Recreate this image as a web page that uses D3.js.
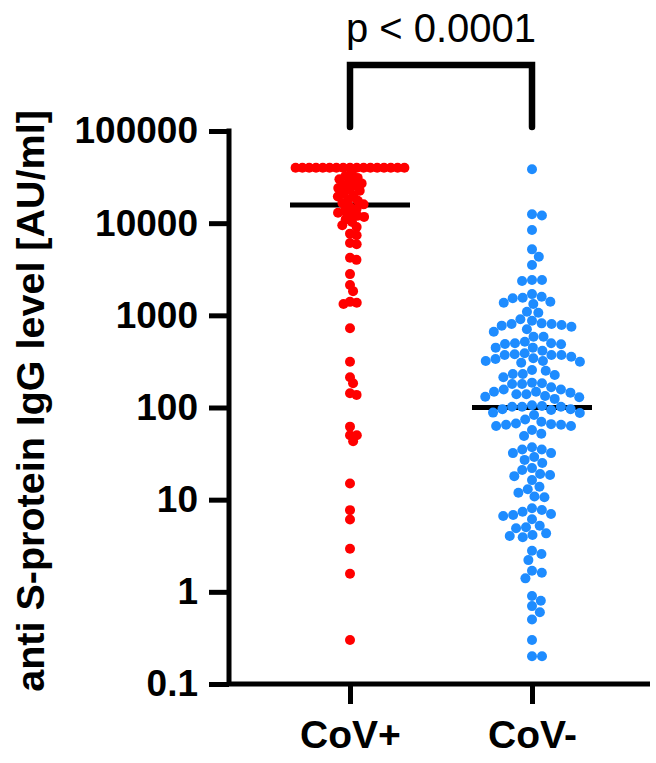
<!DOCTYPE html>
<html>
<head>
<meta charset="utf-8">
<script src="https://cdn.jsdelivr.net/npm/d3@7"></script>
<style>
  body { margin: 0; background: #fff; }
  text { font-family: "Liberation Sans", Arial, sans-serif; }
</style>
</head>
<body>
<script>
'use strict';

// groups and colours
const groups = ["CoV+", "CoV-"]
const groupColors = ["#FF0000", "#1E8CFF"]

// anti S-protein IgG [AU/ml]
const covPos = [
  40000, 40000, 40000, 40000, 40000, 40000, 40000, 40000, 40000, 40000,
  40000, 40000, 40000, 40000, 40000, 40000, 40000,
  34000, 32500, 31000, 30000, 28500, 27000, 26000, 25500, 24000, 23000,
  22500, 21000, 20000, 19500, 18000, 17500, 16500, 16000, 15000, 14200,
  13500, 13000, 12400, 12000, 11700, 11000, 10300,
  9500, 9100, 7700, 7400, 6100, 5900, 4220, 4000, 2800, 2130, 1830,
  1400, 1370, 1330, 723, 314, 213, 183, 143, 137, 62, 50, 50, 43,
  15, 7.7, 6.1, 2.93, 1.57, 0.3
]

const covNeg = [
  38400, 12500, 12100, 8430, 5200, 4330, 3520, 2420, 2420, 2360, 1700, 1590,
  1550, 1530, 1406, 1371, 1327, 1094, 1069, 906, 875, 818, 805, 805, 785, 773,
  753, 706, 664, 586, 586, 518, 498, 498, 489, 485, 446, 446, 413, 387, 378,
  371, 371, 371, 356, 342, 336, 319, 319, 314, 306, 255, 251, 231, 231, 225,
  213, 186, 183, 180, 180, 166, 157, 157, 148, 148, 145, 139, 139, 133, 131,
  129, 124, 106, 104, 102, 102, 102, 96, 96, 94, 88, 87, 83, 74, 70, 67, 66,
  65, 65, 63, 63, 57, 52, 49, 37, 35, 35, 32, 32, 29, 27, 25, 22, 21, 19,
  18.5, 18, 16.3, 13.8, 13, 11.9, 10.8, 10.6, 8.06, 7.72, 7.4, 6.98, 6.82,
  6.65, 6.12, 5.22, 5.01, 4.89, 4.31, 4.14, 4.03, 3.91, 2.79, 2.57, 2.21,
  1.69, 1.61, 1.4, 0.9, 0.8, 0.7, 0.6, 0.5, 0.3, 0.2, 0.2
]

const medians = [15700, 100]
const yTicks = [0.1, 1, 10, 100, 1000, 10000, 100000]
const pLabel = "p < 0.0001"
const yTitle = "anti S-protein IgG level [AU/ml]"

const m = {
  width: 656,
  height: 763,
  left: 229,
  right: 650,
  top: 131,
  bottom: 684
}

const svg = d3.select('body')
  .append('svg')
  .attr('width', m.width)
  .attr('height', m.height)

const x = d3.scalePoint()
  .domain(groups)
  .range([350, 532])

const y = d3.scaleLog()
  .domain([0.1, 100000])
  .range([m.bottom, m.top])

// simple beeswarm: place each point as close to the centre as it can go
function swarm(values, minD) {
  const pts = values.map((v) => ({v: v, y: y(v)}))
    .sort((a, b) => a.y - b.y)
  const placed = []
  pts.forEach((p) => {
    const near = placed.filter((q) => Math.abs(q.y - p.y) < minD)
    let cands = [0]
    near.forEach((q) => {
      const dx = Math.sqrt(minD * minD - (q.y - p.y) ** 2)
      cands.push(q.dx + dx, q.dx - dx)
    })
    cands.sort((a, b) => Math.abs(a) - Math.abs(b))
    for (const c of cands) {
      const ok = near.every((q) => (q.dx - c) ** 2 + (q.y - p.y) ** 2 >= minD * minD - 1e-6)
      if (ok) { p.dx = c; break }
    }
    placed.push(p)
  })
  return placed
}

// y axis
const yAxis = d3.axisLeft(y)
  .tickValues(yTicks)
  .tickFormat((d) => String(d))
  .tickSize(20)
  .tickSizeOuter(0)
  .tickPadding(11)

const gy = svg.append('g')
  .attr('transform', 'translate(' + m.left + ',0)')
  .call(yAxis)
gy.select('.domain').remove()
gy.selectAll('line').attr('stroke', '#000').attr('stroke-width', 5)
gy.selectAll('text')
  .style('font-size', '37px')
  .style('font-weight', 'bold')
  .attr('fill', '#000')

// x axis
const xAxis = d3.axisBottom(x)
  .tickSize(20)
  .tickSizeOuter(0)
  .tickPadding(16)

const gx = svg.append('g')
  .attr('transform', 'translate(0,' + m.bottom + ')')
  .call(xAxis)
gx.select('.domain').remove()
gx.selectAll('line').attr('stroke', '#000').attr('stroke-width', 5)
gx.selectAll('text')
  .style('font-size', '39px')
  .style('font-weight', 'bold')
  .attr('fill', '#000')

// axis lines drawn as one corner
svg.append('path')
  .attr('d', 'M' + m.left + ',' + (m.top - 2.5) + 'V' + m.bottom + 'H' + m.right)
  .attr('fill', 'none')
  .attr('stroke', '#000')
  .attr('stroke-width', 5)

// median lines
svg.selectAll('.median')
  .data(medians)
  .enter()
  .append('line')
  .attr('class', 'median')
  .attr('x1', (d, i) => x(groups[i]) - 60)
  .attr('x2', (d, i) => x(groups[i]) + 60)
  .attr('y1', (d) => y(d))
  .attr('y2', (d) => y(d))
  .attr('stroke', '#000')
  .attr('stroke-width', 5)

// dots
const sets = [swarm(covPos, 6.8), swarm(covNeg, 10)]
sets.forEach((pts, i) => {
  svg.append('g')
    .selectAll('circle')
    .data(pts)
    .enter()
    .append('circle')
    .attr('cx', (d) => x(groups[i]) + d.dx)
    .attr('cy', (d) => d.y)
    .attr('r', 5)
    .attr('fill', groupColors[i])
})

// significance bracket
const bracketY = 65
const legEnd = 127
svg.append('path')
  .attr('d', 'M' + x(groups[0]) + ',' + legEnd + 'V' + bracketY +
    'H' + x(groups[1]) + 'V' + legEnd)
  .attr('fill', 'none')
  .attr('stroke', '#000')
  .attr('stroke-width', 6.5)
  .attr('stroke-linecap', 'round')

svg.append('text')
  .attr('x', (x(groups[0]) + x(groups[1])) / 2)
  .attr('y', 42)
  .attr('text-anchor', 'middle')
  .style('font-size', '40px')
  .text(pLabel)

// y title
svg.append('text')
  .attr('transform', 'translate(44, 401)rotate(-90)')
  .attr('text-anchor', 'middle')
  .style('font-size', '39.5px')
  .style('font-weight', 'bold')
  .text(yTitle)
</script>
</body>
</html>
